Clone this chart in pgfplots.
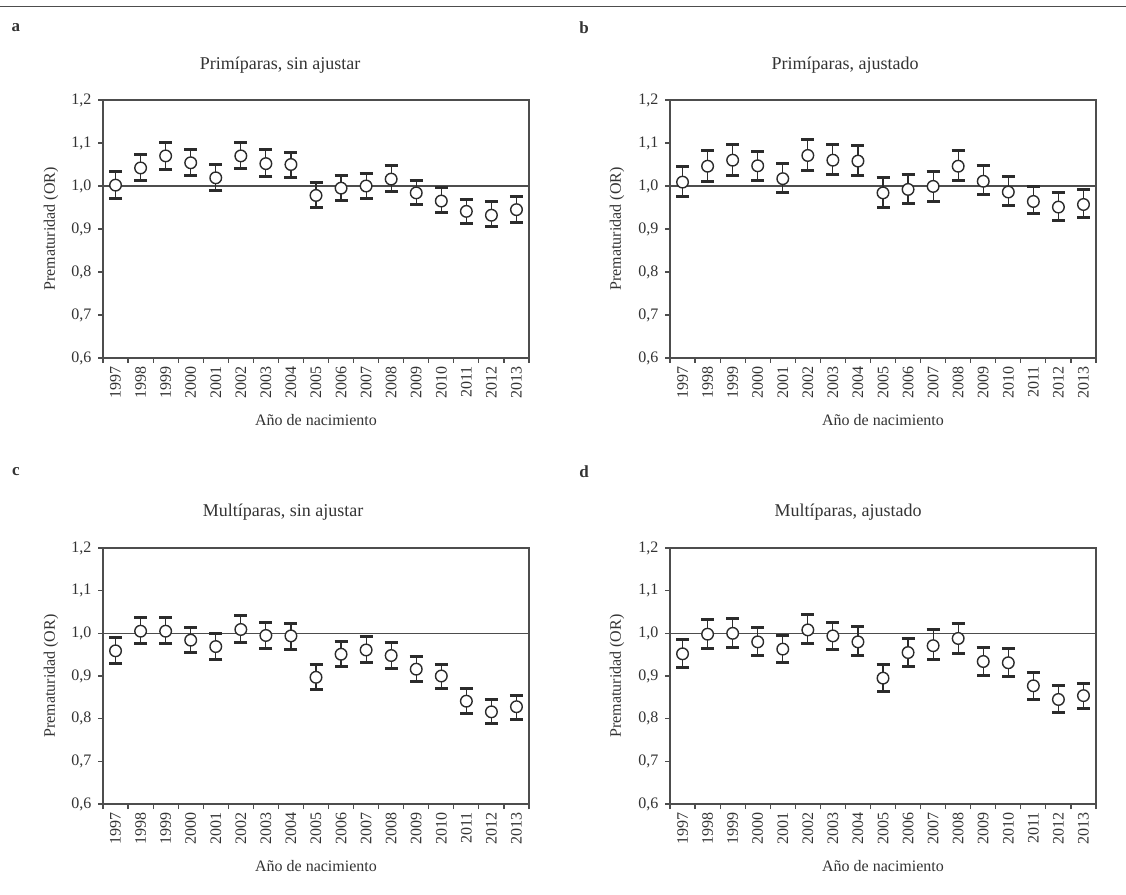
\documentclass[border=0pt]{standalone}
\usepackage{pgfplots}
\pgfplotsset{compat=1.18}
\usepackage{pgfplotstable}
\usepackage{fontspec}
\setmainfont{Liberation Serif}
\definecolor{txt}{HTML}{333333}
\definecolor{frm}{HTML}{4D4D4D}
\definecolor{bar}{HTML}{2B2B2B}

\pgfplotstableread{
x y lo hi
1997 1.002 0.972 1.033
1998 1.042 1.012 1.074
1999 1.070 1.039 1.101
2000 1.054 1.024 1.085
2001 1.019 0.989 1.051
2002 1.070 1.040 1.101
2003 1.052 1.023 1.084
2004 1.050 1.020 1.079
2005 0.978 0.950 1.007
2006 0.995 0.967 1.025
2007 1.000 0.972 1.030
2008 1.016 0.988 1.047
2009 0.984 0.956 1.013
2010 0.965 0.938 0.996
2011 0.941 0.912 0.968
2012 0.932 0.905 0.963
2013 0.945 0.916 0.976
}\dataA
\pgfplotstableread{
x y lo hi
1997 1.009 0.976 1.046
1998 1.046 1.011 1.083
1999 1.060 1.025 1.096
2000 1.047 1.012 1.081
2001 1.017 0.984 1.052
2002 1.071 1.036 1.109
2003 1.060 1.027 1.096
2004 1.058 1.025 1.095
2005 0.984 0.951 1.019
2006 0.992 0.960 1.027
2007 0.999 0.965 1.034
2008 1.046 1.012 1.083
2009 1.011 0.981 1.047
2010 0.986 0.955 1.021
2011 0.964 0.936 0.998
2012 0.951 0.920 0.984
2013 0.957 0.927 0.992
}\dataB
\pgfplotstableread{
x y lo hi
1997 0.959 0.930 0.991
1998 1.005 0.975 1.037
1999 1.005 0.977 1.037
2000 0.984 0.955 1.014
2001 0.969 0.939 1.000
2002 1.009 0.978 1.041
2003 0.995 0.965 1.026
2004 0.994 0.963 1.023
2005 0.897 0.869 0.926
2006 0.951 0.922 0.982
2007 0.961 0.931 0.992
2008 0.948 0.918 0.979
2009 0.916 0.887 0.945
2010 0.900 0.871 0.928
2011 0.841 0.812 0.870
2012 0.816 0.789 0.844
2013 0.828 0.799 0.855
}\dataC
\pgfplotstableread{
x y lo hi
1997 0.952 0.920 0.986
1998 0.998 0.965 1.033
1999 1.000 0.967 1.035
2000 0.980 0.948 1.014
2001 0.963 0.931 0.996
2002 1.008 0.975 1.045
2003 0.994 0.961 1.026
2004 0.980 0.948 1.016
2005 0.895 0.863 0.926
2006 0.955 0.922 0.988
2007 0.971 0.938 1.008
2008 0.988 0.953 1.023
2009 0.934 0.901 0.967
2010 0.931 0.898 0.965
2011 0.877 0.845 0.908
2012 0.845 0.814 0.877
2013 0.854 0.823 0.883
}\dataD

\pgfplotsset{
  panel/.style={
    scale only axis, width=426pt, height=258pt,
    anchor=south west,
    xmin=1996.5, xmax=2013.5, ymin=0.6, ymax=1.2,
    ytick={0.6,0.7,0.8,0.9,1.0,1.1,1.2},
    /pgf/number format/.cd, use comma, fixed, fixed zerofill, precision=1, assume math mode=true,
    /pgfplots/.cd,
    xtick={1996.5,1997.5,1998.5,1999.5,2000.5,2001.5,2002.5,2003.5,2004.5,2005.5,2006.5,2007.5,2008.5,2009.5,2010.5,2011.5,2012.5,2013.5},
    x tick label as interval,
    xticklabels={1997,1998,1999,2000,2001,2002,2003,2004,2005,2006,2007,2008,2009,2010,2011,2012,2013},
    xticklabel style={rotate=90, anchor=east},
    yticklabel style={xshift=-3pt},
    tick label style={text=txt, font=\fontsize{16}{16}\selectfont},
    tick align=outside, xtick pos=bottom, ytick pos=left,
    major tick length=5pt,
    axis line style={frm, line width=1.3pt},
    every tick/.style={frm, line width=1.2pt},
  },
  ebar/.style={only marks, mark=none, bar,
    error bars/.cd, y dir=both, y explicit,
    error bar style={line width=1.2pt, bar},
    error mark options={rotate=90, line width=3pt, mark size=6.5pt, bar}},
  circ/.style={only marks, mark=*, mark size=5.8pt,
    mark options={fill=white, draw=bar, line width=1.4pt}},
}

\newcommand{\panelplots}[1]{%
  \addplot[frm, line width=1.1pt, no marks] coordinates {(1996.5,1) (2013.5,1)};
  \addplot[ebar] table[x=x, y=y, y error plus expr=\thisrow{hi}-\thisrow{y}, y error minus expr=\thisrow{y}-\thisrow{lo}] {#1};
  \addplot[circ] table[x=x, y=y] {#1};
}

\begin{document}
\begin{tikzpicture}
\fill[white] (0,0) rectangle (1126pt,894pt);
\useasboundingbox (0,0) rectangle (1126pt,894pt);
\draw[frm, line width=1pt] (0,887pt) -- (1126pt,887pt);

\begin{axis}[panel, at={(103pt,536pt)}]
\panelplots{\dataA}
\end{axis}
\begin{axis}[panel, at={(670pt,536pt)}]
\panelplots{\dataB}
\end{axis}
\begin{axis}[panel, height=256pt, at={(103pt,90pt)}]
\panelplots{\dataC}
\end{axis}
\begin{axis}[panel, height=256pt, at={(670pt,90pt)}]
\panelplots{\dataD}
\end{axis}

\tikzset{lett/.style={text=txt, font=\bfseries\fontsize{17}{17}\selectfont},
  ttl/.style={text=txt, font=\fontsize{18}{18}\selectfont},
  lab/.style={text=txt, font=\fontsize{16}{16}\selectfont}}
\node[lett] at (16pt,866pt) {a};
\node[lett] at (584pt,866pt) {b};
\node[lett] at (16pt,422pt) {c};
\node[lett] at (584pt,422pt) {d};

\node[ttl] at (280pt,829pt) {Primíparas, sin ajustar};
\node[ttl] at (845pt,829pt) {Primíparas, ajustado};
\node[ttl] at (283pt,382pt) {Multíparas, sin ajustar};
\node[ttl] at (848pt,382pt) {Multíparas, ajustado};

\node[lab, rotate=90] at (51pt,665pt) {Prematuridad (OR)};
\node[lab, rotate=90] at (617pt,665pt) {Prematuridad (OR)};
\node[lab, rotate=90] at (51pt,218pt) {Prematuridad (OR)};
\node[lab, rotate=90] at (617pt,218pt) {Prematuridad (OR)};

\node[lab] at (316pt,474pt) {Año de nacimiento};
\node[lab] at (883pt,474pt) {Año de nacimiento};
\node[lab] at (316pt,28pt) {Año de nacimiento};
\node[lab] at (883pt,28pt) {Año de nacimiento};
\end{tikzpicture}
\end{document}
